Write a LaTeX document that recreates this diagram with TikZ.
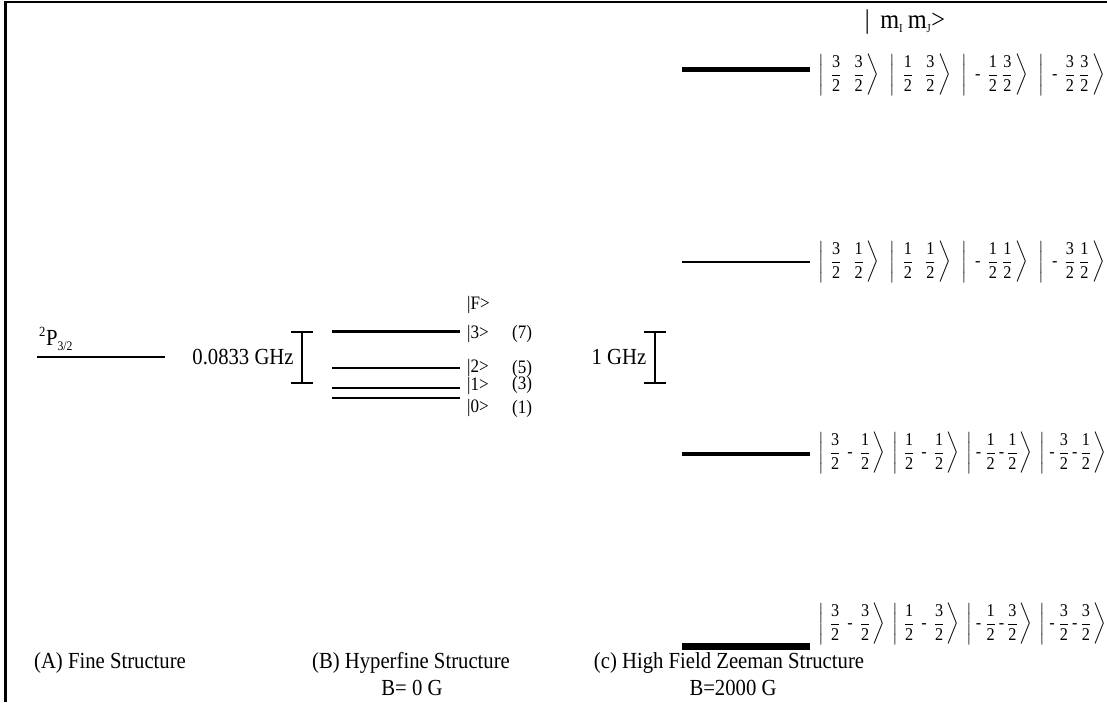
\documentclass[tikz,border=0pt]{standalone}
\usepackage{amsmath}
\usepackage{fontspec}
\setmainfont[FakeStretch=0.9]{Liberation Serif}
\newcommand{\fr}[2]{\dfrac{\text{#1}}{\text{#2}}}
\newcommand{\mn}{\hspace{7pt}\text{-}\hspace{7pt}}
\newcommand{\mns}{\hspace{3pt}\text{-}\hspace{3pt}}
\newcommand{\mnl}{\hspace{-2pt}\text{-}\hspace{4pt}}
\newcommand{\mnw}{\hspace{1pt}\text{-}\hspace{7pt}}
\newcommand{\gp}{\hspace{12pt}}
\newcommand{\kt}[1]{\left|\hspace{6pt}#1\hspace{2pt}\right\rangle\hspace{4pt}}
\newcommand{\ktw}[1]{\left|\hspace{7pt}#1\hspace{3pt}\right\rangle\hspace{7pt}}
\begin{document}
\begin{tikzpicture}[x=1pt,y=-1pt,
  lbl/.style={font=\fontsize{23}{26}\selectfont, inner sep=0pt},
  small/.style={font=\fontsize{19}{22}\selectfont, inner sep=0pt},
  ketrow/.style={font=\fontsize{18}{22}\selectfont, inner sep=0pt, anchor=west},
  lvl/.style={line width=2.1pt},
  brk/.style={line width=2pt}]
\useasboundingbox (0,0) rectangle (1107,702);
% frame
\draw[line width=2.5pt] (5.5,702) -- (5.5,2) -- (1107,2);
% (A) fine structure
\coordinate (fa) at (37,357);
\coordinate (fb) at (165,357);
\draw[lvl] (fa) -- (fb);
\node[lbl, anchor=south west] (p32) at (39,351) {\textsuperscript{\fontsize{14}{14}\selectfont 2}P\raisebox{-0.45ex}{\fontsize{13}{14}\selectfont 3/2}};
\node[lbl] (g1) at (243,357) {0.0833 GHz};
\coordinate (b1t) at (302,332);
\coordinate (b1b) at (302,383);
\draw[brk] (b1t) -- (b1b);
\draw[brk] ([xshift=-11pt]b1t) -- ([xshift=11pt]b1t);
\draw[brk] ([xshift=-11pt]b1b) -- ([xshift=11pt]b1b);
% (B) hyperfine
\foreach \n/\yy in {3/331.5,2/368,1/388,0/398}{
  \coordinate (h\n a) at (332,\yy);
  \coordinate (h\n b) at (460,\yy);
  \draw[lvl] (h\n a) -- (h\n b);
}
\node[small, anchor=west] (kF) at (467,305) {|F>};
\node[small, anchor=west] (k3) at (467,334) {|3>};
\node[small, anchor=west] (k2) at (467,368) {|2>};
\node[small, anchor=west] (k1) at (467,386) {|1>};
\node[small, anchor=west] (k0) at (467,408) {|0>};
\node[small, anchor=west] (d7) at (512,334) {(7)};
\node[small, anchor=west] (d5) at (512,369) {(5)};
\node[small, anchor=west] (d3) at (512,385) {(3)};
\node[small, anchor=west] (d1) at (512,409) {(1)};
% 1 GHz
\node[lbl] (g2) at (619,357) {1 GHz};
\coordinate (b2t) at (655,332);
\coordinate (b2b) at (655,383);
\draw[brk] (b2t) -- (b2b);
\draw[brk] ([xshift=-11pt]b2t) -- ([xshift=11pt]b2t);
\draw[brk] ([xshift=-11pt]b2b) -- ([xshift=11pt]b2b);
% (C) Zeeman
\coordinate (z1a) at (682,69);  \coordinate (z1b) at (810,69);
\coordinate (z2a) at (682,262); \coordinate (z2b) at (810,262);
\coordinate (z3a) at (682,454); \coordinate (z3b) at (810,454);
\coordinate (z4a) at (682,646); \coordinate (z4b) at (810,646);
\draw[line width=5pt] (z1a) -- (z1b);
\draw[line width=2.6pt] (z2a) -- (z2b);
\draw[line width=4pt] (z3a) -- (z3b);
\draw[line width=7pt] (z4a) -- (z4b);
\node[font=\fontsize{27}{30}\selectfont, inner sep=0pt] (hdr) at (905,22) {|\, m\textsubscript{\fontsize{12}{12}\selectfont I}\,m\textsubscript{\fontsize{12}{12}\selectfont J}>};
\node[ketrow] (r1) at (818,75) {$\ktw{\fr32\gp\fr32}\ktw{\fr12\gp\fr32}\ktw{\mnw\fr12\hspace{4pt}\fr32}\ktw{\mnw\fr32\hspace{4pt}\fr32}$};
\node[ketrow] (r2) at (818,262) {$\ktw{\fr32\gp\fr12}\ktw{\fr12\gp\fr12}\ktw{\mnw\fr12\hspace{4pt}\fr12}\ktw{\mnw\fr32\hspace{4pt}\fr12}$};
\node[ketrow] (r3) at (818,453) {$\kt{\fr32\mn\fr12}\kt{\fr12\mn\fr12}\kt{\mnl\fr12\mns\fr12}\kt{\mnl\fr32\mns\fr12}$};
\node[ketrow] (r4) at (818,624) {$\kt{\fr32\mn\fr32}\kt{\fr12\mn\fr32}\kt{\mnl\fr12\mns\fr32}\kt{\mnl\fr32\mns\fr32}$};
% captions
\node[lbl] (ca) at (110,663) {(A) Fine Structure};
\node[lbl] (cb) at (411,663) {(B) Hyperfine Structure};
\node[lbl] (cb2) at (412,688) {B= 0 G};
\node[lbl] (cc) at (729,663) {(c) High Field Zeeman Structure};
\node[lbl] (cc2) at (733,688) {B=2000 G};
\end{tikzpicture}
\end{document}
